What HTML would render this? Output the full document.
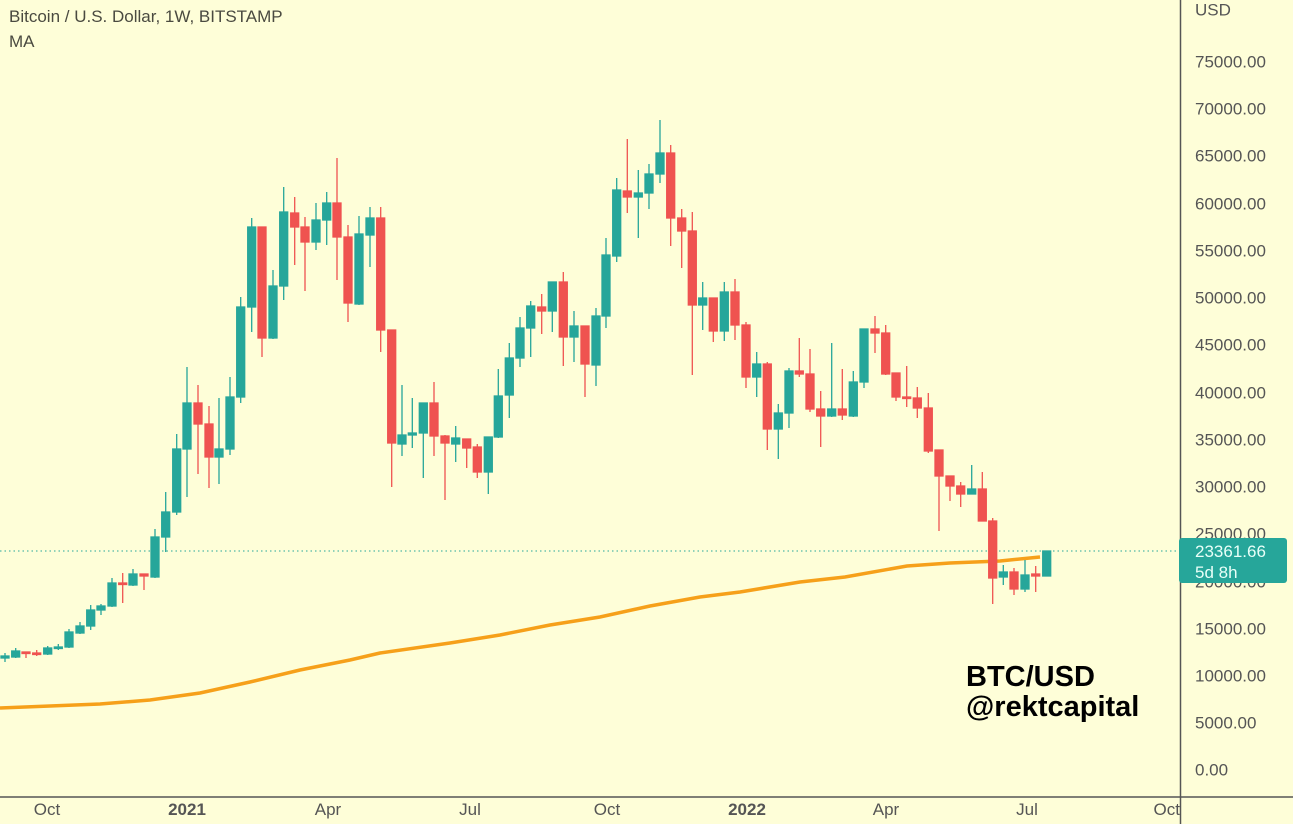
<!DOCTYPE html>
<html><head><meta charset="utf-8"><style>
html,body{margin:0;padding:0;background:#fefed8;}
svg{display:block;font-family:"Liberation Sans",sans-serif;}
</style></head><body>
<svg width="1293" height="824" viewBox="0 0 1293 824" xmlns="http://www.w3.org/2000/svg">
<rect width="1293" height="824" fill="#fefed8"/>
<text x="9" y="22" font-size="17" fill="#4a4a40">Bitcoin / U.S. Dollar, 1W, BITSTAMP</text>
<text x="9" y="47" font-size="17" fill="#4a4a40">MA</text>
<line x1="0" y1="551" x2="1180" y2="551" stroke="#26a69a" stroke-width="1" stroke-dasharray="1.5,3"/>
<polyline fill="none" stroke="#f6a01a" stroke-width="3.5" points="0,708 100,704 150,700 200,693 250,682 300,670 350,660 380,653 450,643 500,635 550,625 600,617 650,606 700,597 740,592 800,582 845,577 907,566 950,563 1000,561 1040,557"/>
<g stroke="#26a69a" fill="#26a69a" stroke-width="1.3">
<path d="M5 653V662M15.7 648V658M47.7 646V655M58.3 644V650M69 629V648M80 622V634M90.7 605V630M101 604V615M112 578V607M133 569V586M155 529V578M165.7 492V552M176.7 434V515M187 367V497M219 398V484M230 377V455M240.7 297V403M251.7 218V332M273 270V339M283.7 187V300M316 203V250M326.7 192V245M359 216V305M370 207V267M402 385V456M412.3 398V448M423.3 403V478M455.7 426V462M488.3 437V494M498.3 369V438M509.3 343V418M520 317V367M530.7 301V357M552.3 282V332M574 311V362M596 308V386M606 238V328M616.7 178V262M638.3 170V238M649 164V209M660 120V183M702.7 282V330M724.3 282V341M756.7 352V397M778.3 404V459M789 368V428M831.7 343V417M853.3 371V417M864 329V388M971.7 465V494M1003.3 565V585M1025 560V592M1046.7 551V576"/>
<rect x="1" y="656" width="8" height="2"/><rect x="11.7" y="651" width="8" height="6"/><rect x="43.7" y="648" width="8" height="6"/><rect x="54.3" y="647" width="8" height="1.5"/><rect x="65" y="632" width="8" height="15"/><rect x="76" y="626" width="8" height="7"/><rect x="86.7" y="610" width="8" height="16"/><rect x="97" y="606" width="8" height="4"/><rect x="108" y="583" width="8" height="23"/><rect x="129" y="574" width="8" height="11"/><rect x="151" y="537" width="8" height="40"/><rect x="161.7" y="512" width="8" height="25"/><rect x="172.7" y="449" width="8" height="63"/><rect x="183" y="403" width="8" height="46"/><rect x="215" y="449" width="8" height="8"/><rect x="226" y="397" width="8" height="52"/><rect x="236.7" y="307" width="8" height="90"/><rect x="247.7" y="227" width="8" height="80"/><rect x="269" y="286" width="8" height="52"/><rect x="279.7" y="212" width="8" height="74"/><rect x="312" y="220" width="8" height="22"/><rect x="322.7" y="203" width="8" height="17"/><rect x="355" y="234" width="8" height="70"/><rect x="366" y="218" width="8" height="17"/><rect x="398" y="435" width="8" height="9"/><rect x="408.3" y="433" width="8" height="2"/><rect x="419.3" y="403" width="8" height="30"/><rect x="451.7" y="438" width="8" height="6"/><rect x="484.3" y="437" width="8" height="35"/><rect x="494.3" y="396" width="8" height="41"/><rect x="505.3" y="358" width="8" height="37"/><rect x="516" y="328" width="8" height="30"/><rect x="526.7" y="306" width="8" height="22"/><rect x="548.3" y="282" width="8" height="29"/><rect x="570" y="326" width="8" height="11"/><rect x="592" y="316" width="8" height="49"/><rect x="602" y="255" width="8" height="61"/><rect x="612.7" y="190" width="8" height="66"/><rect x="634.3" y="193" width="8" height="4"/><rect x="645" y="174" width="8" height="19"/><rect x="656" y="153" width="8" height="21"/><rect x="698.7" y="298" width="8" height="7"/><rect x="720.3" y="292" width="8" height="39"/><rect x="752.7" y="364" width="8" height="13"/><rect x="774.3" y="413" width="8" height="16"/><rect x="785" y="371" width="8" height="42"/><rect x="827.7" y="409" width="8" height="7"/><rect x="849.3" y="382" width="8" height="34"/><rect x="860" y="329" width="8" height="53"/><rect x="967.7" y="489" width="8" height="5"/><rect x="999.3" y="572" width="8" height="5"/><rect x="1021" y="575" width="8" height="14"/><rect x="1042.7" y="551" width="8" height="25"/>
</g>
<g stroke="#ef5350" fill="#ef5350" stroke-width="1.3">
<path d="M26 652V658M36.7 650V656M122.7 573V603M144 574V590M198 385V474M209 406V488M262 227V357M294.7 197V265M305 217V291M337 158V280M348 225V322M380.7 207V352M391.7 330V487M434 382V456M445 435V500M466.7 439V468M477.3 444V478M541.7 294V334M563.3 272V366M585 326V397M627.3 139V213M670.7 145V246M681.7 209V268M692.3 212V375M713.3 298V342M735 279V340M746 322V388M767.3 362V450M799.3 338V377M810 349V412M820.7 391V447M842.3 369V420M875 316V353M885.7 325V375M896 373V401M906.7 366V407M917.3 387V418M928.3 393V453M939 450V531M950 476V501M960.7 482V507M982.3 472V521M992.7 518V604M1014 568V595M1035.7 566V592"/>
<rect x="22" y="652" width="8" height="1.5"/><rect x="32.7" y="653" width="8" height="1.5"/><rect x="118.7" y="583" width="8" height="1.5"/><rect x="140" y="574" width="8" height="2"/><rect x="194" y="403" width="8" height="21"/><rect x="205" y="424" width="8" height="33"/><rect x="258" y="227" width="8" height="111"/><rect x="290.7" y="213" width="8" height="14"/><rect x="301" y="227" width="8" height="15"/><rect x="333" y="203" width="8" height="34"/><rect x="344" y="237" width="8" height="66"/><rect x="376.7" y="218" width="8" height="112"/><rect x="387.7" y="330" width="8" height="113"/><rect x="430" y="403" width="8" height="33"/><rect x="441" y="436" width="8" height="7"/><rect x="462.7" y="439" width="8" height="9"/><rect x="473.3" y="447" width="8" height="25"/><rect x="537.7" y="307" width="8" height="4"/><rect x="559.3" y="282" width="8" height="55"/><rect x="581" y="326" width="8" height="38"/><rect x="623.3" y="191" width="8" height="6"/><rect x="666.7" y="153" width="8" height="65"/><rect x="677.7" y="218" width="8" height="13"/><rect x="688.3" y="231" width="8" height="74"/><rect x="709.3" y="298" width="8" height="33"/><rect x="731" y="292" width="8" height="33"/><rect x="742" y="325" width="8" height="52"/><rect x="763.3" y="364" width="8" height="65"/><rect x="795.3" y="371" width="8" height="3"/><rect x="806" y="374" width="8" height="35"/><rect x="816.7" y="409" width="8" height="7"/><rect x="838.3" y="409" width="8" height="6"/><rect x="871" y="329" width="8" height="4"/><rect x="881.7" y="333" width="8" height="41"/><rect x="892" y="373" width="8" height="24"/><rect x="902.7" y="397" width="8" height="1.5"/><rect x="913.3" y="398" width="8" height="10"/><rect x="924.3" y="408" width="8" height="43"/><rect x="935" y="450" width="8" height="26"/><rect x="946" y="476" width="8" height="10"/><rect x="956.7" y="486" width="8" height="8"/><rect x="978.3" y="489" width="8" height="32"/><rect x="988.7" y="521" width="8" height="57"/><rect x="1010" y="572" width="8" height="17"/><rect x="1031.7" y="574" width="8" height="2"/>
</g>
<text x="966" y="686" font-size="29" font-weight="bold" fill="#000">BTC/USD</text>
<text x="966" y="716" font-size="29" font-weight="bold" fill="#000">@rektcapital</text>
<line x1="1180.5" y1="0" x2="1180.5" y2="824" stroke="#555" stroke-width="1.5"/>
<line x1="0" y1="797" x2="1293" y2="797" stroke="#555" stroke-width="1.5"/>
<g font-size="17" fill="#555" dominant-baseline="middle">
<text x="1195" y="11">USD</text>
<text x="1195" y="63">75000.00</text>
<text x="1195" y="110">70000.00</text>
<text x="1195" y="157">65000.00</text>
<text x="1195" y="205">60000.00</text>
<text x="1195" y="252">55000.00</text>
<text x="1195" y="299">50000.00</text>
<text x="1195" y="346">45000.00</text>
<text x="1195" y="394">40000.00</text>
<text x="1195" y="441">35000.00</text>
<text x="1195" y="488">30000.00</text>
<text x="1195" y="535">25000.00</text>
<text x="1195" y="583">20000.00</text>
<text x="1195" y="630">15000.00</text>
<text x="1195" y="677">10000.00</text>
<text x="1195" y="724">5000.00</text>
<text x="1195" y="771">0.00</text>
</g>
<rect x="1179" y="538" width="108" height="45" rx="3" fill="#26a69a"/>
<text x="1195" y="557" font-size="17" fill="#e8fff8">23361.66</text>
<text x="1195" y="578" font-size="17" fill="#e8fff8">5d 8h</text>
<g font-size="17" fill="#555" text-anchor="middle">
<text x="47" y="815">Oct</text>
<text x="187" y="815" font-weight="bold">2021</text>
<text x="328" y="815">Apr</text>
<text x="470" y="815">Jul</text>
<text x="607" y="815">Oct</text>
<text x="747" y="815" font-weight="bold">2022</text>
<text x="886" y="815">Apr</text>
<text x="1027" y="815">Jul</text>
<text x="1180" y="815" text-anchor="end">Oct</text>
</g>
</svg>
</body></html>
